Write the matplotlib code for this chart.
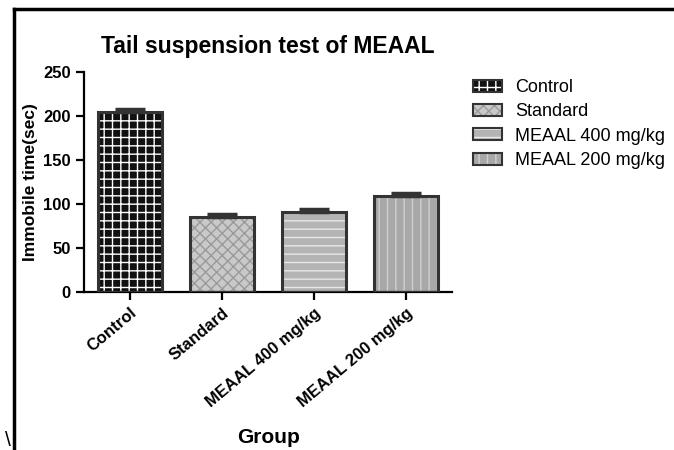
import matplotlib.pyplot as plt
import numpy as np
from matplotlib.patches import Patch
from matplotlib.lines import Line2D

# data
groups = ["Control", "Standard", "MEAAL 400 mg/kg", "MEAAL 200 mg/kg"]
immobile = [204.5, 85.5, 91, 109]
sem = [3, 3, 3, 4]

# looks of each bar: fill, hatch, hatch colour
fills = ["#111111", "#c9c9c9", "#b4b4b4", "#a8a8a8"]
hatches = ["++", "xxx", "--", "||"]
hatch_cols = ["#ffffff", "#9a9a9a", "#e8e8e8", "#d0d0d0"]
edge = "#333333"

plt.rcParams['font.family'] = ['Liberation Sans', 'DejaVu Sans']

fig = plt.figure(figsize=(6.74, 4.5), dpi=100)
ax = fig.add_axes([0.1246, 0.351, 0.546, 0.489])

x = np.arange(len(groups))
for i in range(len(groups)):
    ax.bar(x[i], immobile[i], width=0.7, color=fills[i], hatch=hatches[i],
           edgecolor=hatch_cols[i], linewidth=0, zorder=2)
    ax.bar(x[i], immobile[i], width=0.7, fill=False, edgecolor=edge,
           linewidth=2.2, zorder=3)
ax.errorbar(x, immobile, yerr=[np.zeros(len(sem)), sem], fmt='none',
            ecolor=edge, elinewidth=2, capsize=11, capthick=2.5, zorder=4)

ax.set_xlim(-0.5, 3.5)
ax.set_ylim(0, 250)
ax.set_yticks([0, 50, 100, 150, 200, 250])
ax.set_xticks(x)
ax.set_xticklabels(groups, rotation=40, ha='right', rotation_mode='anchor',
                   fontsize=12, fontweight='bold')
for lab in ax.get_yticklabels():
    lab.set_fontweight('bold')
    lab.set_fontsize(12)
ax.spines['top'].set_visible(False)
ax.spines['right'].set_visible(False)
ax.spines['left'].set_linewidth(1.6)
ax.spines['bottom'].set_linewidth(1.6)
ax.tick_params(width=1.6, length=6)

ax.set_title("Tail suspension test of MEAAL", fontsize=16.5, fontweight='bold', pad=14)
ax.set_ylabel("Immobile time(sec)", fontsize=12.5, fontweight='bold', labelpad=4)
fig.text(0.398, 0.015, "Group", fontsize=15, fontweight='bold', ha='center')

handles = []
for i in range(len(groups)):
    h1 = Patch(facecolor=fills[i], hatch=hatches[i], edgecolor=hatch_cols[i], linewidth=0)
    h2 = Patch(fill=False, edgecolor=edge, linewidth=1.5)
    handles.append((h1, h2))
fig.legend(handles, groups, loc='upper left', bbox_to_anchor=(0.678, 0.86),
           frameon=False, fontsize=13, handlelength=1.6, handleheight=0.65,
           labelspacing=0.4, handletextpad=0.7)

# frame lines of the original picture
fig.add_artist(Line2D([0.021, 0.021], [0.0, 0.98], color='black', lw=2.5))
fig.add_artist(Line2D([0.021, 1.0], [0.98, 0.98], color='black', lw=2.5))
fig.text(0.008, 0.008, "\\", fontsize=15)

fig.savefig("out.png", dpi=100)
